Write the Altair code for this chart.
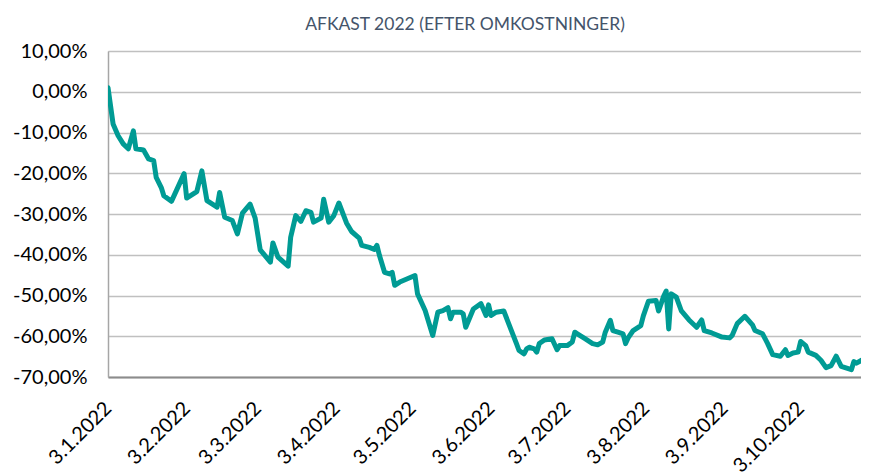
import altair as alt
import pandas as pd

chart_title = "AFKAST 2022 (EFTER OMKOSTNINGER)"

dates = [
    "2022-01-03", "2022-01-05", "2022-01-07", "2022-01-09", "2022-01-11", "2022-01-13",
    "2022-01-14", "2022-01-17", "2022-01-19", "2022-01-21", "2022-01-22", "2022-01-24",
    "2022-01-25", "2022-01-28", "2022-02-02", "2022-02-03", "2022-02-07", "2022-02-09",
    "2022-02-11", "2022-02-15", "2022-02-16", "2022-02-18", "2022-02-21", "2022-02-23",
    "2022-02-25", "2022-02-28", "2022-03-02", "2022-03-04", "2022-03-08", "2022-03-09",
    "2022-03-11", "2022-03-15", "2022-03-16", "2022-03-18", "2022-03-20", "2022-03-22",
    "2022-03-24", "2022-03-25", "2022-03-28", "2022-03-29", "2022-03-31", "2022-04-02",
    "2022-04-04", "2022-04-07", "2022-04-09", "2022-04-12", "2022-04-13", "2022-04-16",
    "2022-04-18", "2022-04-19", "2022-04-20", "2022-04-22", "2022-04-24", "2022-04-25",
    "2022-04-26", "2022-04-28", "2022-05-01", "2022-05-04", "2022-05-05", "2022-05-08",
    "2022-05-11", "2022-05-13", "2022-05-15", "2022-05-17", "2022-05-18", "2022-05-19",
    "2022-05-22", "2022-05-23", "2022-05-24", "2022-05-27", "2022-05-30", "2022-06-01",
    "2022-06-02", "2022-06-03", "2022-06-05", "2022-06-08", "2022-06-11", "2022-06-13",
    "2022-06-14", "2022-06-16", "2022-06-17", "2022-06-18", "2022-06-20", "2022-06-21",
    "2022-06-22", "2022-06-24", "2022-06-27", "2022-06-29", "2022-06-30", "2022-07-03",
    "2022-07-05", "2022-07-06", "2022-07-07", "2022-07-10", "2022-07-13", "2022-07-15",
    "2022-07-17", "2022-07-18", "2022-07-20", "2022-07-21", "2022-07-23", "2022-07-25",
    "2022-07-26", "2022-07-27", "2022-07-29", "2022-08-01", "2022-08-02", "2022-08-04",
    "2022-08-07", "2022-08-08", "2022-08-10", "2022-08-11", "2022-08-12", "2022-08-13",
    "2022-08-15", "2022-08-17", "2022-08-20", "2022-08-23", "2022-08-25", "2022-08-26",
    "2022-08-29", "2022-09-02", "2022-09-05", "2022-09-06", "2022-09-08", "2022-09-11",
    "2022-09-14", "2022-09-15", "2022-09-18", "2022-09-20", "2022-09-22", "2022-09-25",
    "2022-09-27", "2022-09-28", "2022-09-30", "2022-10-02", "2022-10-03", "2022-10-05",
    "2022-10-06", "2022-10-09", "2022-10-11", "2022-10-13", "2022-10-15", "2022-10-17",
    "2022-10-19", "2022-10-23", "2022-10-24", "2022-10-25", "2022-10-27", "2022-10-29",
]

returns_pct = [
    1.0, -7.9, -10.8, -12.8, -14.0, -9.6,
    -14.0, -14.3, -16.5, -16.9, -21.0, -23.5,
    -25.5, -26.9, -20.1, -26.1, -24.5, -19.4,
    -26.7, -28.3, -24.7, -30.8, -31.6, -34.9,
    -29.8, -27.6, -31.0, -38.8, -41.8, -37.1,
    -40.6, -42.8, -35.7, -30.4, -31.8, -29.2,
    -29.6, -32.0, -31.0, -26.4, -32.0, -30.4,
    -27.3, -32.2, -34.3, -35.9, -37.7, -38.2,
    -38.7, -37.7, -40.2, -44.3, -44.7, -44.3,
    -47.5, -46.7, -45.9, -45.1, -49.6, -53.7,
    -59.8, -54.1, -53.7, -53.0, -55.7, -54.1,
    -54.1, -54.5, -57.8, -53.3, -52.0, -54.9,
    -52.3, -54.9, -54.1, -53.8, -58.6, -61.8,
    -63.5, -64.3, -63.1, -62.7, -63.1, -63.9,
    -61.8, -60.9, -60.6, -63.3, -62.3, -62.3,
    -61.4, -59.0, -59.4, -60.6, -61.8, -62.1,
    -61.4, -59.0, -56.1, -58.6, -59.0, -59.4,
    -61.8, -60.4, -58.6, -57.4, -55.0, -51.4,
    -51.2, -53.8, -50.2, -48.9, -58.2, -49.6,
    -50.4, -53.8, -56.0, -57.8, -56.0, -58.6,
    -59.2, -60.2, -60.4, -59.8, -56.9, -55.1,
    -57.2, -58.6, -59.4, -61.8, -64.5, -64.9,
    -63.3, -64.7, -64.1, -63.9, -61.3, -62.3,
    -63.9, -64.7, -65.9, -67.7, -67.2, -64.9,
    -67.4, -68.2, -66.2, -66.6, -65.9, -65.9,
]

x_tick_dates = [
    "2022-01-03", "2022-02-03", "2022-03-03", "2022-04-03", "2022-05-03",
    "2022-06-03", "2022-07-03", "2022-08-03", "2022-09-03", "2022-10-03",
]
y_ticks = [10, 0, -10, -20, -30, -40, -50, -60, -70]

df = pd.DataFrame({"date": dates, "value": returns_pct})
title_df = pd.DataFrame({"label": [chart_title]})


def dt(s, hours=0):
    y, m, d = (int(p) for p in s.split("-"))
    return alt.DateTime(year=y, month=m, date=d, hours=hours, utc=True)


x_domain = [dt("2022-01-03"), dt("2022-10-26", 19)]

FONT = "Lato"

x_enc = alt.X(
    "date:T",
    scale=alt.Scale(type="utc", domain=x_domain),
    axis=alt.Axis(
        title=None,
        values=[dt(s) for s in x_tick_dates],
        labelExpr="utcFormat(datum.value, '%-d.%-m.%Y')",
        labelAngle=-45,
        labelAlign="right",
        labelBaseline="middle",
        labelPadding=28,
        labelFont=FONT,
        labelFontSize=20,
        labelColor="#000000",
        labelOverlap=False,
        labelFlush=False,
        ticks=False,
        grid=False,
        domainColor="#8c8c8c",
        domainWidth=2,
    ),
)

y_enc = alt.Y(
    "value:Q",
    scale=alt.Scale(domain=[-70, 10], nice=False, zero=False),
    axis=alt.Axis(
        title=None,
        values=y_ticks,
        labelExpr="(datum.value < 0 ? '-' : '') + replace(format(abs(datum.value), '.2f'), '.', ',') + '%'",
        labelFont=FONT,
        labelFontSize=20,
        labelColor="#000000",
        labelPadding=21,
        ticks=False,
        grid=True,
        gridColor="#c0c0c0",
        gridWidth=1.5,
        domainColor="#a6a6a6",
        domainWidth=1.5,
    ),
)

line = (
    alt.Chart(df)
    .mark_line(color="#009b94", strokeWidth=5, strokeJoin="round", strokeCap="round", clip=True)
    .encode(x=x_enc, y=y_enc)
)

title_text = (
    alt.Chart(title_df)
    .mark_text(
        font=FONT,
        fontSize=17.5,
        color="#44546a",
        align="center",
        baseline="alphabetic",
    )
    .encode(text="label:N", x=alt.value(357), y=alt.value(-21))
)

chart = (
    alt.layer(line, title_text)
    .properties(
        width=753,
        height=326,
        autosize=alt.AutoSizeParams(type="none"),
        padding={"left": 100, "top": 43, "right": 0, "bottom": 96},
    )
    .configure_view(stroke=None)
    .configure(background="white")
)

chart.save("out.html", embed_options={"renderer": "svg", "actions": False})
